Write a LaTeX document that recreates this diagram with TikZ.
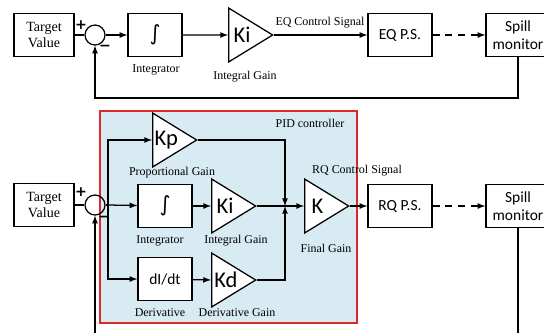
\documentclass[tikz,border=0pt]{standalone}
\usepackage{fontspec}
\setmainfont{Liberation Serif}
\newfontfamily\blockfont{Carlito}
\newfontfamily\symbfont{DejaVu Sans}
\usepackage{color}
\definecolor{mypidblue}{RGB}{216,234,242}
\definecolor{mypidred}{RGB}{220,40,40}
\usepackage{tikz}
\usetikzlibrary{shapes.geometric,arrows,positioning,calc}

\begin{document}
\begin{tikzpicture}[
  x=0.025cm,
  y=-0.025cm,
  line width=0.9pt,
  myblock/.style={
    draw,
    fill=white,
    rectangle,
    minimum width=1.35cm,
    minimum height=1.08cm,
    inner sep=1pt,
    align=center,
    font=\blockfont\fontsize{11}{13}\selectfont
    },
  mytarget/.style={
    myblock,
    minimum width=1.5cm,
    font=\fontsize{10}{11}\selectfont
    },
  mygain/.style={
    draw,
    fill=white,
    isosceles triangle,
    isosceles triangle apex angle=63,
    shape border rotate=0,
    minimum width=1.33cm,
    minimum height=1.1cm,
    inner sep=0pt,
    anchor=lower side,
    font=\blockfont\fontsize{16}{16}\selectfont
    },
  mysum/.style={
    draw,
    circle,
    minimum size=0.5cm,
    inner sep=0pt
    },
  mylabel/.style={
    inner sep=1pt,
    font=\fontsize{8.5}{10}\selectfont
    },
  mysign/.style={
    inner sep=0pt,
    font=\symbfont\bfseries\fontsize{10}{10}\selectfont
    },
  mydash/.style={
    dash pattern=on 5pt off 4pt
    }
]
\clip (0,0) rectangle (544,332);

% EQ loop
\node[mytarget] (target1) at (44,35) {Target\\Value};
\node[mysum] (sum1) at (95,35) {};
\node[myblock] (int1) at (155,35) {\symbfont\fontsize{15}{15}\selectfont ∫};
\node[mygain] (ki1) at (228,35) {Ki};
\node[myblock, minimum width=1.6cm] (eqps) at (400,35) {EQ P.S.};
\node[myblock, minimum width=1.6cm] (spill1) at (518,35) {Spill\\monitor};
\coordinate (fbcorner1) at (95,98);

\node[mysign] (plus1) at (81,25) {+};
\node[mysign] (minus1) at (105,48) {−};
\node[mylabel] (int1lab) at (156,70) {Integrator};
\node[mylabel] (ki1lab) at (245,77) {Integral Gain};
\node[mylabel] (eqsig) at (320,23) {EQ Control Signal};

\draw (target1) -- (sum1);
\draw[-latex] (sum1) -- (int1);
\draw[-latex] (int1) -- (ki1);
\draw[-latex] (ki1.apex) -- (eqps);
\draw[-latex, mydash] (eqps) -- (spill1);
\draw[-latex] (spill1.south) |- (fbcorner1) -- (sum1.south);

% RQ loop with PID controller
\draw[draw=mypidred, fill=mypidblue, line width=1.1pt] (100,111) rectangle (357,323);
\node[mylabel] (pidlab) at (310,123) {PID controller};

\node[mytarget] (target2) at (44,205) {Target\\Value};
\node[mysum] (sum2) at (95,205) {};
\coordinate (branch) at (108,205);
\node[mygain] (kp) at (152,140) {Kp};
\node[myblock] (int2) at (165,206) {\symbfont\fontsize{15}{15}\selectfont ∫};
\node[mygain] (ki2) at (211,206) {Ki};
\node[myblock] (didt) at (165,279) {dI/dt};
\node[mygain] (kd) at (211,280) {Kd};
\coordinate (junct) at (285,206);
\node[mygain] (kfin) at (304,206) {K};
\node[myblock, minimum width=1.6cm] (rqps) at (400,206) {RQ P.S.};
\node[myblock, minimum width=1.6cm] (spill2) at (518,206) {Spill\\monitor};
\coordinate (fbstart2) at (95,345);
\coordinate (fbend2) at (518,345);

\node[mysign] (plus2) at (81,192) {+};
\node[mysign] (minus2) at (104,219) {−};
\node[mylabel] (kplab) at (172,173) {Proportional Gain};
\node[mylabel] (int2lab) at (160,241) {Integrator};
\node[mylabel] (ki2lab) at (236,241) {Integral Gain};
\node[mylabel] (didtlab) at (160,313) {Derivative};
\node[mylabel] (kdlab) at (237,313) {Derivative Gain};
\node[mylabel] (kfinlab) at (326,248) {Final Gain};
\node[mylabel] (rqsig) at (357,171) {RQ Control Signal};

\draw (target2) -- (sum2);
\draw (sum2) -- (branch);
\draw[-latex] (branch) |- (kp.lower side);
\draw[-latex] (branch) -- (int2);
\draw[-latex] (branch) |- (didt);
\draw[-latex] (int2) -- (ki2.lower side);
\draw[-latex] (didt) -- (kd.lower side);
\draw[-latex] (kp.apex) -| (junct);
\draw[-latex] (kd.apex) -| (junct);
\draw[-latex] (ki2.apex) -- (kfin.lower side);
\draw[-latex] (kfin.apex) -- (rqps);
\draw[-latex, mydash] (rqps) -- (spill2);
\draw (spill2.south) -- (fbend2);
\draw[-latex] (fbstart2) -- (sum2.south);

\end{tikzpicture}
\end{document}
